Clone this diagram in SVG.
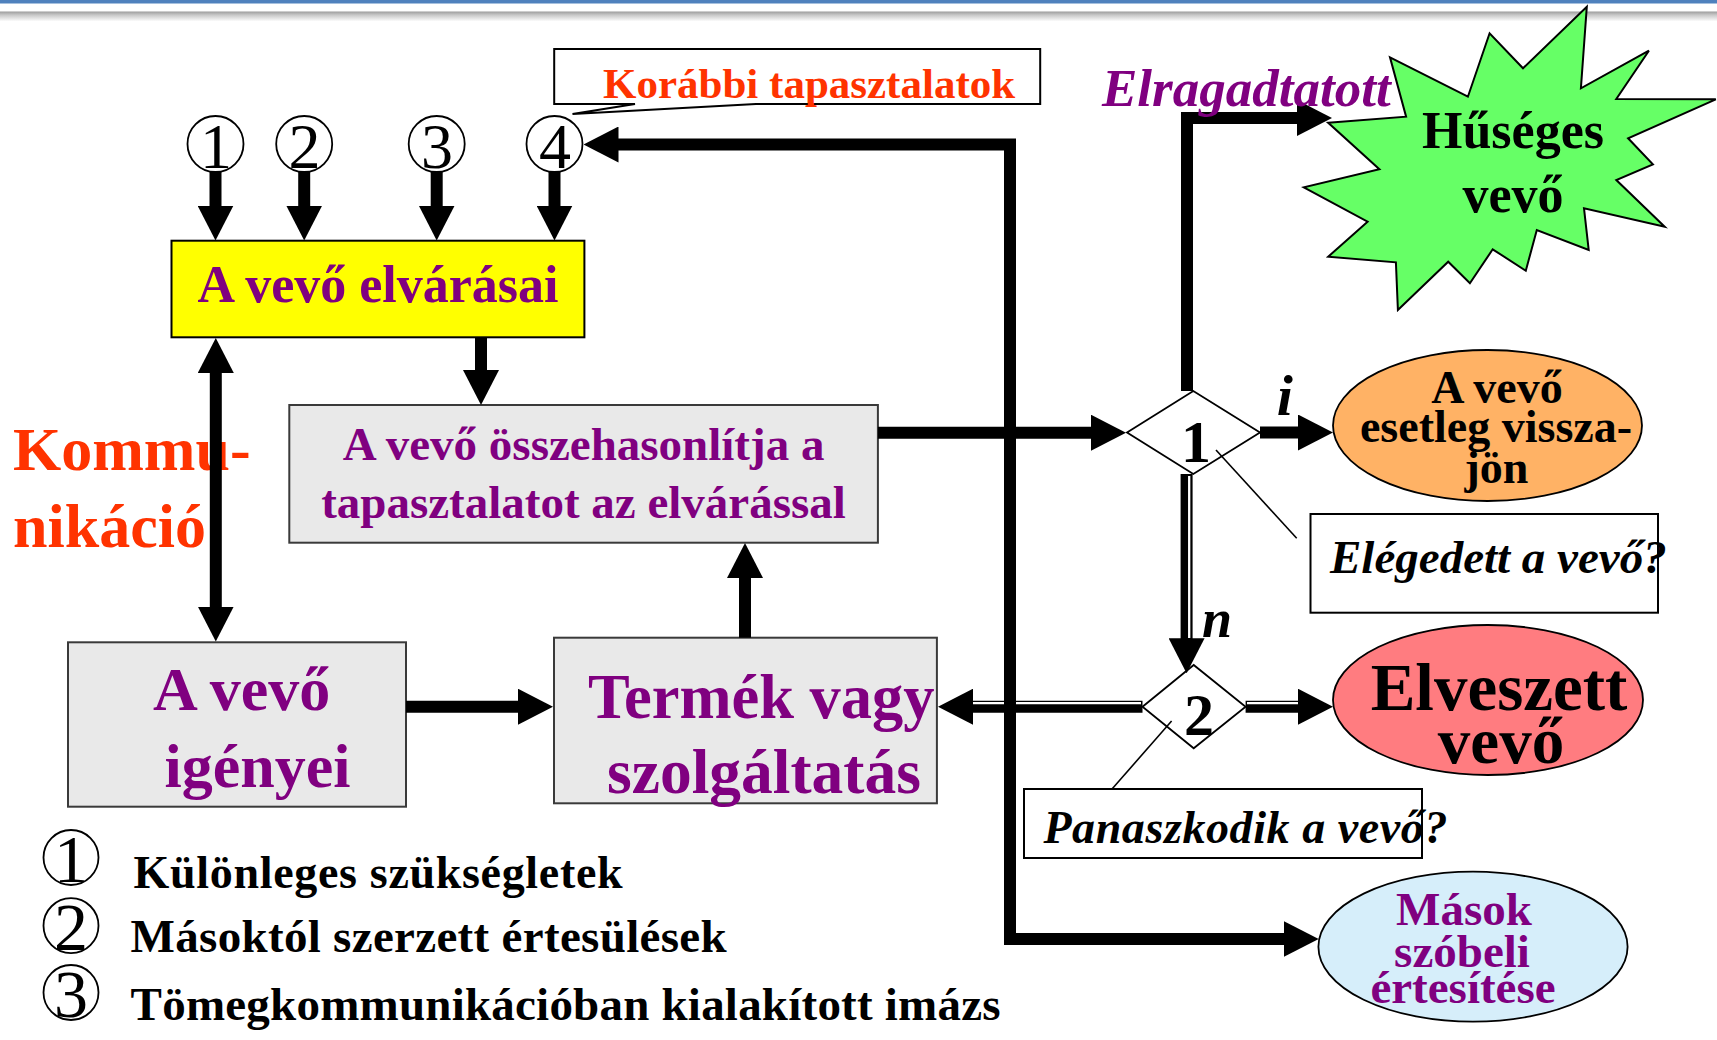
<svg xmlns="http://www.w3.org/2000/svg" width="1717" height="1040" viewBox="0 0 1717 1040">
  <defs>
    <linearGradient id="shade" x1="0" y1="0" x2="0" y2="1">
      <stop offset="0" stop-color="#9c9c9c"/>
      <stop offset="0.35" stop-color="#c8c8c8"/>
      <stop offset="1" stop-color="#ffffff"/>
    </linearGradient>
    <marker id="ah" viewBox="0 0 35 36" markerWidth="35" markerHeight="36" refX="1" refY="18" orient="auto" markerUnits="userSpaceOnUse">
      <path d="M0,0 L35,18 L0,36 Z" fill="#000"/>
    </marker>
    <marker id="ah2" viewBox="0 0 35 36" markerWidth="35" markerHeight="36" refX="1" refY="18" orient="auto-start-reverse" markerUnits="userSpaceOnUse">
      <path d="M0,0 L35,18 L0,36 Z" fill="#000"/>
    </marker>
  </defs>
  <style>
    .t { font-family: 'Liberation Serif', 'Times New Roman', serif; font-weight: bold; }
    .n { font-family: 'Liberation Serif', 'Times New Roman', serif; font-weight: normal; fill: #000; }
    .it { font-style: italic; }
    .pu { fill: #800080; }
    .rd { fill: #FF3300; }
    .bk { fill: #000; }
    .mid { text-anchor: middle; }
    .box { fill: #E9E9E9; stroke: #3a3a3a; stroke-width: 2; }
    .wbox { fill: #fff; stroke: #000; stroke-width: 2; }
    .ring { fill: #fff; stroke: #000; stroke-width: 1.8; }
    .dia { fill: #fff; stroke: #000; stroke-width: 1.8; }
    .shaft { fill: none; stroke: #000; stroke-width: 12; stroke-linejoin: miter; }
    .gap { fill: none; stroke: #fff; stroke-width: 2.3; }
    .lead { fill: none; stroke: #000; stroke-width: 1.6; }
  </style>

  <rect width="1717" height="1040" fill="#fff"/>

  <!-- slide header bar -->
  <g id="header">
    <rect x="0" y="0" width="1717" height="3.5" fill="#4F81BD"/>
    <rect x="0" y="11.5" width="1717" height="10" fill="url(#shade)"/>
  </g>

  <!-- numbered inputs -->
  <g id="in1"><circle class="ring" cx="215.5" cy="144" r="28"/><text class="n mid" x="216" y="168" font-size="64">1</text></g>
  <g id="in2"><circle class="ring" cx="304.2" cy="144" r="28"/><text class="n mid" x="304.5" y="168" font-size="64">2</text></g>
  <g id="in3"><circle class="ring" cx="436.7" cy="144" r="28"/><text class="n mid" x="437" y="168" font-size="64">3</text></g>
  <g id="in4"><circle class="ring" cx="554.5" cy="144" r="28"/><text class="n mid" x="555" y="168" font-size="64">4</text></g>

  <!-- callout -->
  <g id="korabbi">
    <path class="wbox" stroke-width="1.8" d="M554.2,49 H1040.2 V104 H756 L572.5,114 L635,104 H554.2 Z"/>
    <text class="t rd" x="603" y="98.3" font-size="43">Korábbi tapasztalatok</text>
  </g>

  <!-- expectations -->
  <g id="elvarasai">
    <rect x="171.5" y="240.7" width="412.9" height="96.6" fill="#FFFF00" stroke="#000" stroke-width="2"/>
    <text class="t pu mid" x="378" y="301.7" font-size="52">A vevő elvárásai</text>
  </g>

  <!-- comparison -->
  <g id="osszehasonlitja">
    <rect class="box" x="289.3" y="405" width="588.6" height="137.7"/>
    <text class="t pu mid" x="583.5" y="460" font-size="47">A vevő összehasonlítja a</text>
    <text class="t pu mid" x="583.5" y="518.3" font-size="47">tapasztalatot az elvárással</text>
  </g>

  <!-- needs -->
  <g id="igenyei">
    <rect class="box" x="68" y="642.3" width="338" height="164.4"/>
    <text class="t pu" x="153" y="710" font-size="62">A vevő</text>
    <text class="t pu" x="164.6" y="786.7" font-size="62">igényei</text>
  </g>

  <!-- product or service -->
  <g id="termek">
    <rect class="box" x="554" y="637.7" width="382.9" height="165.6"/>
    <text class="t pu" x="588" y="718.3" font-size="62.5">Termék vagy</text>
    <text class="t pu" x="607" y="793.3" font-size="63.5">szolgáltatás</text>
  </g>

  <!-- communication label -->
  <g id="kommunikacio">
    <text class="t rd" x="13" y="470" font-size="62">Kommu-</text>
    <text class="t rd" x="13" y="547" font-size="62">nikáció</text>
  </g>

  <!-- decision 1 -->
  <g id="dontes1">
    <polygon class="dia" points="1127,432.5 1193.3,391 1260,432.5 1193.3,474"/>
    <text class="t bk mid" x="1196" y="461.7" font-size="60">1</text>
  </g>

  <!-- decision 2 -->
  <g id="dontes2">
    <polygon class="dia" points="1142.5,706.7 1193.7,665 1245.6,706.7 1193.7,748.3"/>
    <text class="t bk mid" x="1199" y="735" font-size="60">2</text>
  </g>

  <!-- loyal customer -->
  <g id="huseges">
    <polygon fill="#66FF66" stroke="#000" stroke-width="2" stroke-linejoin="miter" points="1328.2,122.7 1406.1,116.7 1390,57.3 1467.9,96.7 1489.6,33.3 1523,68.3 1586.8,6.7 1580.9,88.3 1648.9,50.7 1616.3,99 1715.8,99.3 1628.1,138.3 1652.9,164.3 1616.3,180 1664.7,226.7 1584,208.3 1588.7,250 1536.8,230 1525.8,270.7 1492.7,249.3 1469.9,283.3 1448.2,261.7 1397.9,310 1395.9,262.3 1328.2,256.7 1367.6,221.7 1303.8,187.3 1379.4,169.3"/>
    <text class="t bk mid" x="1513" y="148.3" font-size="52">Hűséges</text>
    <text class="t bk mid" x="1513" y="211.7" font-size="52">vevő</text>
  </g>

  <!-- may come back -->
  <g id="visszajon">
    <ellipse cx="1487.5" cy="425.5" rx="154.5" ry="75.5" fill="#FFB265" stroke="#000" stroke-width="1.8"/>
    <text class="t bk mid" x="1497" y="402.7" font-size="46">A vevő</text>
    <text class="t bk mid" x="1496" y="441.7" font-size="46">esetleg vissza-</text>
    <text class="t bk mid" x="1496.5" y="483.3" font-size="46">jön</text>
  </g>

  <!-- satisfied question -->
  <g id="elegedett">
    <rect class="wbox" x="1310.5" y="514" width="347.5" height="98.7"/>
    <text class="t bk it" x="1330" y="573.3" font-size="47">Elégedett a vevő?</text>
  </g>

  <!-- lost customer -->
  <g id="elveszett">
    <ellipse cx="1488" cy="700" rx="155" ry="75" fill="#FF7C80" stroke="#000" stroke-width="1.8"/>
    <text class="t bk mid" x="1499" y="710" font-size="67">Elveszett</text>
    <text class="t bk mid" x="1501" y="763.3" font-size="65">vevő</text>
  </g>

  <!-- complaint question -->
  <g id="panaszkodik">
    <rect class="wbox" x="1024" y="789" width="398" height="69"/>
    <text class="t bk it" x="1043.4" y="843.3" font-size="46" textLength="404" lengthAdjust="spacing">Panaszkodik a vevő?</text>
  </g>

  <!-- word of mouth -->
  <g id="masok">
    <ellipse cx="1473" cy="946.7" rx="154.6" ry="75" fill="#D6EEFA" stroke="#000" stroke-width="1.8"/>
    <text class="t pu mid" x="1464" y="925" font-size="47">Mások</text>
    <text class="t pu mid" x="1462" y="966.7" font-size="47">szóbeli</text>
    <text class="t pu mid" x="1463" y="1003.3" font-size="47">értesítése</text>
  </g>

  <!-- connectors -->
  <g id="connectors">
    <path class="shaft" marker-end="url(#ah)" d="M215.5,171 V206.5"/>
    <path class="shaft" marker-end="url(#ah)" d="M304.2,171 V206.5"/>
    <path class="shaft" marker-end="url(#ah)" d="M436.7,171 V206.5"/>
    <path class="shaft" marker-end="url(#ah)" d="M554.5,171 V206.5"/>
    <path class="shaft" marker-end="url(#ah)" d="M481,337.3 V371"/>
    <path class="shaft" marker-start="url(#ah2)" marker-end="url(#ah2)" d="M215.8,372 V607.5"/>
    <path class="shaft" marker-end="url(#ah)" d="M406,706.7 H519"/>
    <path class="shaft" marker-end="url(#ah)" d="M745,637.7 V577"/>
    <path class="shaft" marker-end="url(#ah)" d="M877.9,432.7 H1092"/>
    <path class="shaft" marker-end="url(#ah)" d="M1260,432.5 H1299"/>
    <path class="shaft" marker-end="url(#ah)" d="M1187,391 V118 H1298"/>

    <!-- double-line branches -->
    <path class="shaft" marker-end="url(#ah)" d="M1186.6,474 V639.3"/>
    <path class="gap" d="M1189.2,476 V638"/>
    <path class="shaft" marker-end="url(#ah)" d="M1245.6,706.7 H1299"/>
    <path class="gap" d="M1247,703.1 H1298"/>
    <path class="shaft" marker-end="url(#ah)" d="M1142.5,706.7 H972"/>
    <path class="gap" d="M1141,703.1 H973"/>

    <!-- feedback to previous experience and word of mouth -->
    <path class="shaft" marker-start="url(#ah2)" marker-end="url(#ah2)" d="M617.5,144.5 H1010 V939 H1284.7"/>

    <!-- question leaders -->
    <path class="lead" d="M1216,450 L1296.7,538.3"/>
    <path class="lead" d="M1171.6,721 L1111.8,789.3"/>
  </g>

  <!-- branch labels -->
  <g id="labels">
    <text class="t pu it" x="1102" y="106" font-size="53">Elragadtatott</text>
    <text class="t bk it" x="1276.7" y="415" font-size="58">i</text>
    <text class="t bk it" x="1202" y="636.7" font-size="54">n</text>
  </g>

  <!-- legend -->
  <g id="legend">
    <circle class="ring" cx="71" cy="857.5" r="27.5"/>
    <text class="n mid" x="71" y="882" font-size="68">1</text>
    <text class="t bk" x="133.6" y="888.3" font-size="46" textLength="489" lengthAdjust="spacing">Különleges szükségletek</text>
    <circle class="ring" cx="71" cy="925.7" r="27.5"/>
    <text class="n mid" x="71" y="950" font-size="68">2</text>
    <text class="t bk" x="130.6" y="951.7" font-size="47" textLength="596" lengthAdjust="spacing">Másoktól szerzett értesülések</text>
    <circle class="ring" cx="71" cy="992.5" r="27.5"/>
    <text class="n mid" x="71" y="1017" font-size="68">3</text>
    <text class="t bk" x="130.6" y="1020" font-size="47" textLength="870" lengthAdjust="spacing">Tömegkommunikációban kialakított imázs</text>
  </g>
</svg>
